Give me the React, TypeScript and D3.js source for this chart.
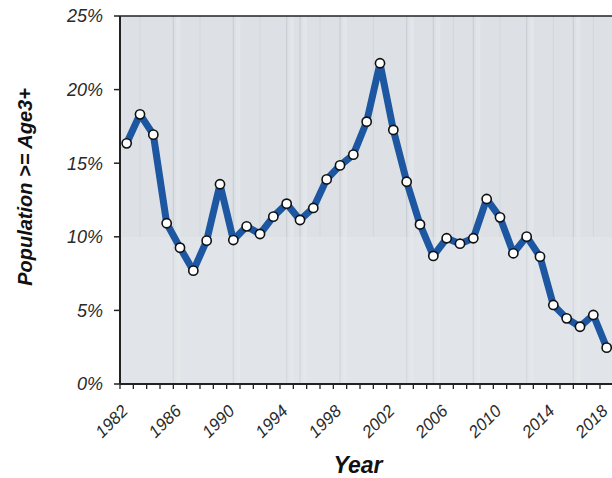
import * as d3 from 'd3';

const years = d3.range(1982, 2019);
const share = [
  16.35, 18.32, 16.94, 10.92, 9.26, 7.7, 9.74, 13.57, 9.78, 10.71, 10.19, 11.37, 12.25,
  11.14, 11.96, 13.9, 14.85, 15.58, 17.82, 21.79, 17.26, 13.74, 10.84, 8.7, 9.9, 9.53,
  9.9, 12.57, 11.32, 8.88, 10.01, 8.65, 5.37, 4.46, 3.89, 4.69, 2.47,
];
const yTicks = [0, 5, 10, 15, 20, 25];
const xLabelYears = [1982, 1986, 1990, 1994, 1998, 2002, 2006, 2010, 2014, 2018];
// faint background stripes (the paper texture in the original)
const stripeYears = [1986, 1990.5, 1994.5, 1995.5, 1998.5, 2003.5, 2005.5, 2008.5, 2012.5, 2016];
const thinStripes = [1983.5, 1988, 1992.5, 1997, 2001, 2007, 2010.5, 2014.5, 2017.5];

const W = 612;
const H = 478;
const left = 120;
const top = 16;
const bottom = 384;

export default function App() {
  const x = d3.scaleLinear().domain([1982, 2018]).range([left, 600]);
  const y = d3.scaleLinear().domain([0, 25]).range([bottom, top]);
  const pts = years.map((yr, i) => ({ yr, v: share[i] }));
  const line = d3.line<{ yr: number; v: number }>()
    .x((d) => x(d.yr + 0.5))
    .y((d) => y(d.v));
  const tickYears = d3.range(1982, 2020);
  const font = '"Liberation Sans", Arial, sans-serif';

  return (
    <svg width={W} height={H} style={{ position: 'absolute', left: 0, top: 0, background: '#fff' }}>
      <rect x={left} y={top} width={W - left} height={bottom - top} fill="#dde1e5" />
      {stripeYears.map((s) => (
        <line key={s} x1={x(s)} x2={x(s)} y1={top} y2={bottom} stroke="#c9ced4" strokeWidth={1.2} />
      ))}
      {thinStripes.map((s) => (
        <line key={'t' + s} x1={x(s)} x2={x(s)} y1={top} y2={y(10)} stroke="#d2d7dc" strokeWidth={1} />
      ))}
      {stripeYears.map((s) => (
        <rect key={'l' + s} x={x(s) + 3} y={top} width={4} height={bottom - top} fill="#e6e9ec" opacity={0.6} />
      ))}
      <rect x={left} y={y(10)} width={W - left} height={bottom - y(10)} fill="#e8ebee" opacity={0.35} />
      <line x1={left} x2={W} y1={top} y2={top} stroke="#222" strokeWidth={1.5} />
      <path d={line(pts) ?? ''} fill="none" stroke="#1d56a1" strokeWidth={7} strokeLinejoin="round" />
      {pts.map((d) => (
        <circle key={d.yr} cx={x(d.yr + 0.5)} cy={y(d.v)} r={4.6} fill="#fff" stroke="#111" strokeWidth={1.6} />
      ))}
      {/* y axis */}
      <line x1={left} x2={left} y1={top} y2={bottom} stroke="#222" strokeWidth={2} />
      {yTicks.map((t) => (
        <g key={t}>
          <line x1={left - 6} x2={left} y1={y(t)} y2={y(t)} stroke="#222" strokeWidth={1.5} />
          <text x={left - 17} y={y(t)} dy="0.35em" textAnchor="end" fontFamily={font} fontStyle="italic"
            fontSize={18} fill="#2a2a2a">{t}%</text>
        </g>
      ))}
      {/* x axis */}
      <line x1={left} x2={W} y1={bottom} y2={bottom} stroke="#222" strokeWidth={2} />
      {tickYears.map((t) => (
        <line key={t} x1={x(t)} x2={x(t)} y1={bottom} y2={bottom + 5} stroke="#222" strokeWidth={1.3} />
      ))}
      {xLabelYears.map((t) => (
        <text key={t} transform={`translate(${x(t) + 9},${bottom + 28}) rotate(-45)`} textAnchor="end"
          fontFamily={font} fontStyle="italic" fontSize={17} fill="#2a2a2a">{t}</text>
      ))}
      <text x={358} y={473} textAnchor="middle" fontFamily={font} fontStyle="italic" fontWeight="bold"
        fontSize={23} fill="#111">Year</text>
      <text transform={`translate(32,187) rotate(-90)`} textAnchor="middle" fontFamily={font}
        fontStyle="italic" fontWeight="bold" fontSize={20} fill="#111">Population &gt;= Age3+</text>
    </svg>
  );
}
